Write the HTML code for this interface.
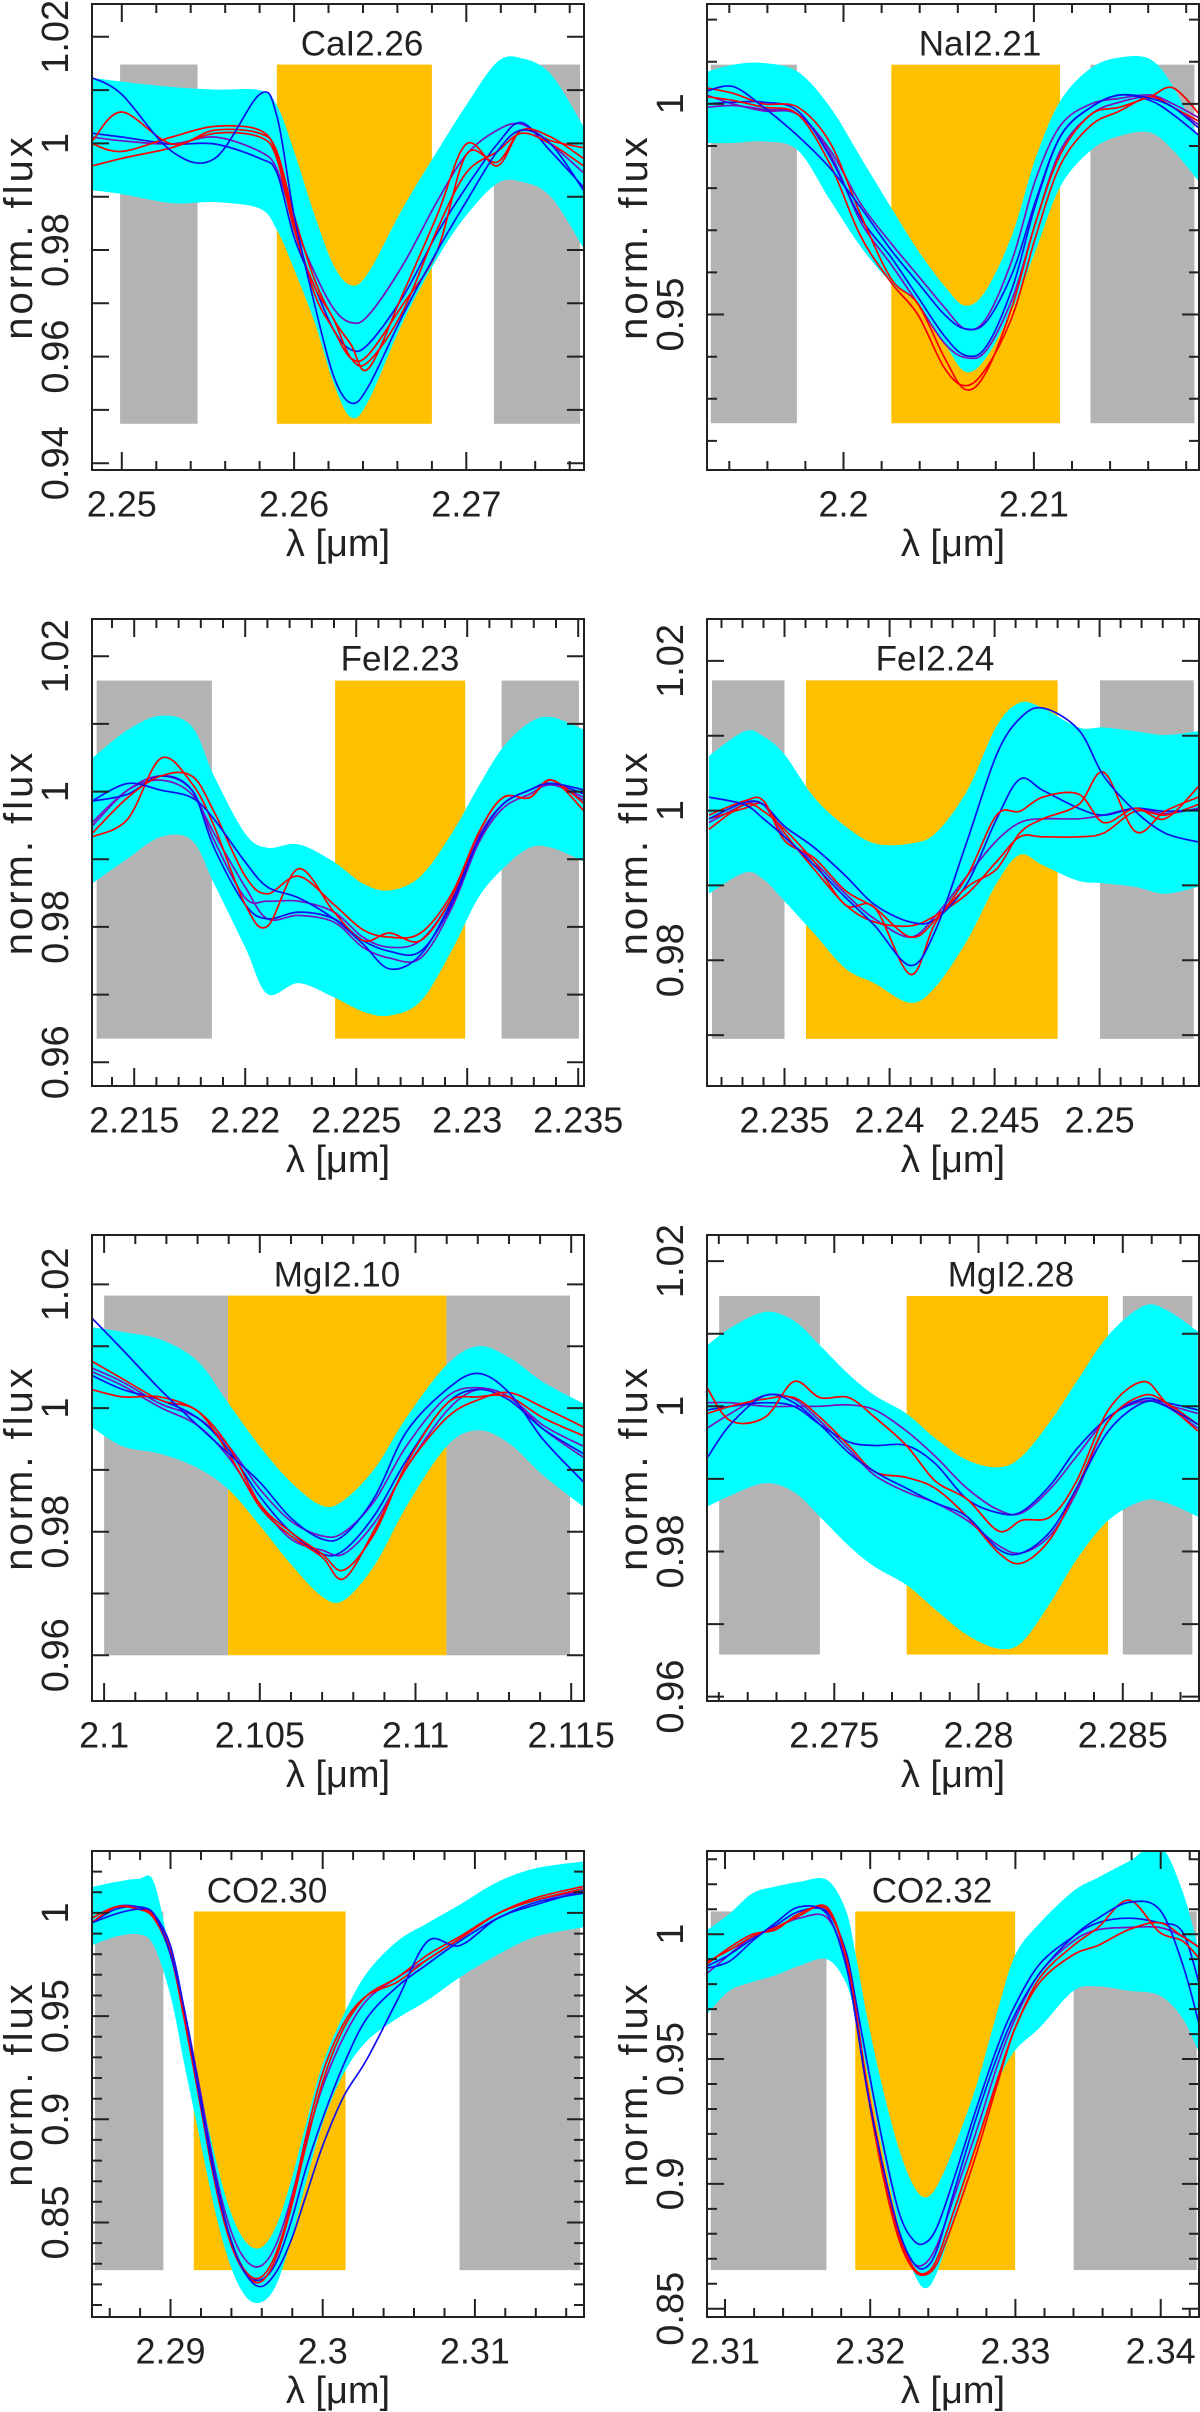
<!DOCTYPE html>
<html><head><meta charset="utf-8"><title>Spectral line index fits</title>
<style>
html,body{margin:0;padding:0;background:#fff;}
svg{display:block;}
text{font-family:"Liberation Sans",sans-serif;fill:#222;}
</style></head>
<body>
<svg id="fig" xmlns="http://www.w3.org/2000/svg" width="1200" height="2412" viewBox="0 0 1200 2412"></svg>
<script>
// ---------- Panel 1: CaI2.26 ----------
const p1X=[2.2483,2.25,2.2529,2.2554,2.2580,2.2590,2.2600,2.2612,2.2623,2.2633,2.2643,2.2663,2.2683,2.2700,2.2718,2.2732,2.2749,2.2768];
const p1Hi=[1.0123,1.0116,1.0106,1.0101,1.0100,1.0072,0.9985,0.9865,0.9771,0.9734,0.9757,0.9878,0.9985,1.0072,1.0153,1.0160,1.0130,1.0032];
const p1Lo=[0.9912,0.9905,0.9888,0.9890,0.9878,0.9838,0.9764,0.9664,0.9550,0.9486,0.9516,0.9664,0.9784,0.9865,0.9925,0.9928,0.9900,0.9804];
const p1A=[1.0123,1.0092,0.9985,0.9972,1.0092,1.0052,0.9865,0.9697,0.9563,0.9513,0.9543,0.9677,0.9798,0.9891,0.9985,1.0025,0.9999,0.9912];
const p1B=[1.0005,1.0059,0.9999,1.0025,1.0019,0.9985,0.9865,0.9744,0.9670,0.9623,0.9577,0.9717,0.9865,0.9999,0.9958,1.0025,1.0005,0.9992];
const p1C=[0.9958,0.9972,0.9992,1.0019,1.0012,0.9972,0.9838,0.9731,0.9670,0.9597,0.9590,0.9684,0.9838,0.9945,0.9985,1.0019,0.9999,0.9958];
const p1D=[1.0012,1.0005,0.9999,1.0012,0.9985,0.9952,0.9851,0.9757,0.9690,0.9664,0.9677,0.9771,0.9891,0.9979,1.0025,1.0036,0.9999,0.9945];
const p1E=[1.0019,1.0012,0.9999,0.9999,0.9972,0.9945,0.9824,0.9731,0.9650,0.9613,0.9623,0.9711,0.9831,0.9918,0.9999,1.0039,0.9985,0.9918];
const p1F=[0.9999,0.9985,1.0012,1.0032,1.0025,0.9979,0.9851,0.9717,0.9650,0.9597,0.9603,0.9697,0.9798,0.9979,0.9965,1.0025,1.0012,0.9972];
const p1Grey=[[2.2499,2.2544],[2.2716,2.2766]];
const p1Orange=[2.2590,2.2680];
const p1BandY=[1.0148,0.9474];
const p1XTicks=[2.25,2.26,2.27];
const p1YTicks=[0.94,0.96,0.98,1,1.02];

// ---------- Panel 2: NaI2.21 ----------
const p2X=[2.1928,2.1942,2.1958,2.1976,2.1993,2.2009,2.2025,2.2039,2.2053,2.2064,2.2075,2.2089,2.2101,2.2114,2.2130,2.2145,2.2161,2.2173,2.2187];
const p2Hi=[1.0076,1.0093,1.0097,1.0076,0.9992,0.9873,0.9754,0.9653,0.9568,0.9521,0.9559,0.9695,0.9873,1.0008,1.0085,1.0110,1.0106,1.0042,0.9915];
const p2Lo=[0.9907,0.9907,0.9911,0.9890,0.9771,0.9661,0.9576,0.9525,0.9432,0.9364,0.9398,0.9517,0.9653,0.9805,0.9890,0.9924,0.9932,0.9890,0.9814];
const p2A=[1.0030,1.0041,0.9992,0.9924,0.9847,0.9754,0.9653,0.9576,0.9500,0.9466,0.9483,0.9602,0.9771,0.9924,0.9992,1.0021,1.0013,0.9992,0.9941];
const p2B=[1.0038,1.0025,1.0000,0.9992,0.9907,0.9737,0.9585,0.9526,0.9398,0.9322,0.9364,0.9526,0.9720,0.9881,0.9975,0.9992,1.0017,1.0038,0.9975];
const p2C=[1.0017,1.0008,0.9992,0.9975,0.9856,0.9686,0.9576,0.9500,0.9373,0.9331,0.9373,0.9500,0.9686,0.9856,0.9949,0.9983,1.0017,0.9992,0.9958];
const p2D=[0.9992,0.9996,0.9987,0.9975,0.9890,0.9763,0.9669,0.9593,0.9517,0.9466,0.9491,0.9636,0.9822,0.9949,1.0000,1.0013,1.0021,1.0000,0.9966];
const p2E=[1.0000,1.0004,1.0004,0.9983,0.9873,0.9729,0.9636,0.9542,0.9449,0.9403,0.9424,0.9568,0.9763,0.9924,0.9992,1.0021,1.0008,0.9975,0.9924];
const p2F=[1.0021,1.0000,0.9983,0.9975,0.9881,0.9720,0.9619,0.9526,0.9432,0.9398,0.9415,0.9542,0.9720,0.9890,0.9975,1.0004,1.0017,0.9992,0.9949];
const p2Grey=[[2.19303,2.19755],[2.21297,2.21843]];
const p2Orange=[2.20251,2.21137];
const p2BandY=[1.0093,0.9242];
const p2XTicks=[2.2,2.21];
const p2YTicks=[0.95,1];

// ---------- Panel 3: FeI2.23 ----------
const p3X=[2.2131,2.2147,2.2162,2.2176,2.2186,2.2200,2.2210,2.2224,2.2240,2.2253,2.2265,2.2279,2.2293,2.2305,2.2316,2.2328,2.2338,2.2353];
const p3Hi=[1.0049,1.0091,1.0112,1.0096,1.0023,0.9938,0.9917,0.9922,0.9896,0.9864,0.9854,0.9875,0.9938,1.0007,1.0065,1.0102,1.0110,1.0091];
const p3Lo=[0.9864,0.9901,0.9933,0.9928,0.9864,0.9770,0.9701,0.9717,0.9696,0.9675,0.9669,0.9690,0.9765,0.9843,0.9886,0.9917,0.9917,0.9896];
const p3A=[0.9986,1.0012,1.0002,0.9991,0.9959,0.9896,0.9859,0.9843,0.9812,0.9775,0.9738,0.9759,0.9838,0.9928,0.9981,1.0002,1.0012,1.0002];
const p3B=[0.9933,0.9959,1.0049,1.0012,0.9949,0.9833,0.9801,0.9886,0.9822,0.9780,0.9791,0.9780,0.9843,0.9938,0.9991,0.9991,1.0017,0.9970];
const p3C=[0.9949,1.0002,1.0023,1.0002,0.9928,0.9843,0.9838,0.9838,0.9822,0.9785,0.9770,0.9780,0.9843,0.9933,0.9981,1.0002,1.0012,0.9986];
const p3D=[0.9986,0.9996,1.0023,1.0002,0.9917,0.9833,0.9812,0.9822,0.9812,0.9780,0.9764,0.9764,0.9833,0.9928,0.9981,1.0002,1.0012,0.9996];
const p3E=[0.9938,0.9991,1.0023,1.0023,0.9970,0.9875,0.9849,0.9875,0.9833,0.9796,0.9785,0.9791,0.9849,0.9938,0.9991,0.9991,1.0017,0.9981];
const p3F=[0.9954,1.0002,1.0017,0.9996,0.9938,0.9859,0.9812,0.9817,0.9807,0.9770,0.9754,0.9754,0.9828,0.9923,0.9975,0.9996,1.0010,0.9991];
const p3Grey=[[2.21331,2.21850],[2.23155,2.23503]];
const p3Orange=[2.22405,2.22991];
const p3BandY=[1.0164,0.9635];
const p3XTicks=[2.215,2.22,2.225,2.23,2.235];
const p3YTicks=[0.96,0.98,1,1.02];

// ---------- Panel 4: FeI2.24 ----------
const p4X=[2.2314,2.2331,2.2340,2.2350,2.2364,2.2379,2.2393,2.2410,2.2422,2.2437,2.2451,2.2462,2.2473,2.2490,2.2502,2.2517,2.2531,2.2547];
const p4Hi=[1.0073,1.0106,1.0099,1.0075,1.0018,0.9979,0.9956,0.9956,0.9970,1.0027,1.0113,1.0144,1.0137,1.0111,1.0111,1.0106,1.0101,1.0106];
const p4Lo=[0.9889,0.9917,0.9908,0.9879,0.9836,0.9789,0.9769,0.9743,0.9765,0.9827,0.9903,0.9941,0.9927,0.9906,0.9903,0.9898,0.9889,0.9898];
const p4A=[1.0018,1.0008,0.9989,0.9965,0.9927,0.9884,0.9846,0.9793,0.9841,0.9960,1.0075,1.0123,1.0137,1.0108,1.0046,0.9999,0.9970,0.9958];
const p4B=[0.9989,1.0011,1.0008,0.9979,0.9951,0.9913,0.9874,0.9851,0.9855,0.9903,0.9989,1.0042,1.0027,1.0003,0.9994,1.0003,0.9999,1.0001];
const p4C=[0.9994,1.0013,1.0013,0.9960,0.9937,0.9893,0.9870,0.9831,0.9855,0.9913,0.9994,0.9999,1.0018,1.0022,0.9984,1.0003,0.9989,1.0032];
const p4D=[0.9975,1.0008,0.9999,0.9975,0.9932,0.9874,0.9870,0.9781,0.9851,0.9898,0.9922,0.9970,0.9989,1.0008,1.0051,0.9972,0.9999,1.0018];
const p4E=[0.9984,1.0008,1.0008,0.9965,0.9932,0.9889,0.9855,0.9831,0.9860,0.9913,0.9960,0.9984,0.9989,0.9989,0.9994,1.0003,0.9996,1.0003];
const p4F=[0.9989,1.0003,1.0008,0.9970,0.9922,0.9874,0.9851,0.9846,0.9860,0.9889,0.9932,0.9965,0.9965,0.9965,0.9970,0.9999,0.9994,1.0008];
const p4Grey=[[2.23155,2.23500],[2.25002,2.25448]];
const p4Orange=[2.23602,2.24800];
const p4BandY=[1.0174,0.9695];
const p4XTicks=[2.235,2.24,2.245,2.25];
const p4YTicks=[0.98,1,1.02];

// ---------- Panel 5: MgI2.10 ----------
const p5X=[2.0996,2.1006,2.1018,2.1030,2.1040,2.1050,2.1060,2.1070,2.1077,2.1087,2.1097,2.1110,2.1120,2.1130,2.1141,2.1154];
const p5Hi=[1.0131,1.0123,1.0111,1.0076,1.0007,0.9938,0.9880,0.9842,0.9851,0.9903,0.9984,1.0070,1.0100,1.0082,1.0042,1.0007];
const p5Lo=[0.9969,0.9938,0.9926,0.9903,0.9868,0.9810,0.9747,0.9695,0.9689,0.9747,0.9840,0.9938,0.9964,0.9943,0.9891,0.9840];
const p5A=[1.0146,1.0094,1.0030,0.9972,0.9926,0.9880,0.9822,0.9788,0.9794,0.9857,0.9961,1.0030,1.0056,1.0025,0.9949,0.9880];
const p5B=[1.0076,1.0047,1.0013,0.9995,0.9926,0.9840,0.9793,0.9759,0.9724,0.9805,0.9903,0.9984,1.0013,1.0025,1.0001,0.9969];
const p5C=[1.0030,1.0018,1.0018,0.9995,0.9938,0.9845,0.9799,0.9764,0.9738,0.9799,0.9909,1.0007,1.0018,1.0018,0.9984,0.9955];
const p5D=[1.0065,1.0042,1.0007,0.9984,0.9938,0.9869,0.9817,0.9793,0.9799,0.9851,0.9938,1.0018,1.0033,1.0018,0.9972,0.9938];
const p5E=[1.0053,1.0030,1.0013,0.9984,0.9932,0.9857,0.9799,0.9764,0.9770,0.9828,0.9915,1.0007,1.0030,1.0013,0.9966,0.9926];
const p5F=[1.0059,1.0036,1.0001,0.9972,0.9920,0.9845,0.9788,0.9770,0.9764,0.9816,0.9903,0.9995,1.0030,1.0018,0.9966,0.9920];
const p5Grey=[[2.1000,2.10398],[2.11099,2.11496]];
const p5Orange=[2.10398,2.11099];
const p5BandY=[1.0182,0.9600];
const p5XTicks=[2.1,2.105,2.11,2.115];
const p5YTicks=[0.96,0.98,1,1.02];

// ---------- Panel 6: MgI2.28 ----------
const p6X=[2.2706,2.2714,2.2726,2.2736,2.2745,2.2755,2.2764,2.2775,2.2785,2.2796,2.2807,2.2815,2.2825,2.2834,2.2845,2.2857,2.2865,2.2876];
const p6Hi=[1.0084,1.0108,1.0130,1.0118,1.0084,1.0044,1.0015,0.9990,0.9956,0.9926,0.9916,0.9931,0.9980,1.0034,1.0098,1.0138,1.0133,1.0103];
const p6Lo=[0.9862,0.9877,0.9894,0.9882,0.9848,0.9808,0.9779,0.9754,0.9720,0.9685,0.9666,0.9675,0.9730,0.9789,0.9843,0.9870,0.9867,0.9848];
const p6A=[0.9929,0.9975,1.0015,1.0005,0.9975,0.9936,0.9910,0.9887,0.9867,0.9848,0.9803,0.9798,0.9828,0.9887,0.9966,1.0005,1.0000,0.9975];
const p6B=[1.0025,0.9980,0.9985,1.0034,1.0012,1.0012,0.9985,0.9946,0.9897,0.9872,0.9828,0.9843,0.9848,0.9897,0.9995,1.0034,1.0005,0.9966];
const p6C=[1.0005,1.0005,1.0000,1.0000,1.0000,1.0002,0.9995,0.9966,0.9931,0.9887,0.9857,0.9853,0.9887,0.9931,0.9985,1.0007,1.0002,0.9990];
const p6D=[0.9995,1.0000,1.0005,1.0000,0.9975,0.9951,0.9946,0.9946,0.9921,0.9872,0.9853,0.9855,0.9892,0.9941,0.9985,1.0010,1.0005,0.9995];
const p6E=[0.9990,1.0000,1.0010,1.0012,0.9985,0.9946,0.9910,0.9902,0.9887,0.9848,0.9798,0.9784,0.9818,0.9887,0.9980,1.0015,1.0005,0.9975];
const p6F=[0.9970,0.9990,1.0015,1.0010,0.9980,0.9941,0.9905,0.9882,0.9867,0.9843,0.9808,0.9798,0.9823,0.9882,0.9980,1.0010,1.0000,0.9970];
const p6Grey=[[2.27101,2.27450],[2.28500,2.28741]];
const p6Orange=[2.27751,2.28449];
const p6BandY=[1.0152,0.9658];
const p6XTicks=[2.275,2.28,2.285];
const p6YTicks=[0.96,0.98,1,1.02];

// ---------- Panel 7: CO2.30 ----------
const p7X=[2.2848,2.2864,2.2879,2.2889,2.2900,2.2909,2.2919,2.2929,2.2939,2.2949,2.2959,2.2969,2.2979,2.2989,2.3000,2.3014,2.3029,2.3049,2.3069,2.3090,2.3115,2.3140,2.3171];
const p7Hi=[1.0125,1.0150,1.0165,1.0150,0.9797,0.9489,0.9159,0.8828,0.8561,0.8410,0.8377,0.8475,0.8696,0.8977,0.9269,0.9511,0.9709,0.9863,0.9951,1.0040,1.0150,1.0216,1.0249];
const p7Lo=[0.9842,0.9885,0.9897,0.9842,0.9599,0.9269,0.8916,0.8564,0.8299,0.8145,0.8112,0.8190,0.8409,0.8695,0.8982,0.9225,0.9379,0.9489,0.9577,0.9687,0.9797,0.9885,0.9930];
const p7A=[0.9951,0.9995,1.0018,0.9995,0.9797,0.9533,0.9115,0.8718,0.8431,0.8255,0.8189,0.8255,0.8409,0.8630,0.8872,0.9114,0.9290,0.9577,0.9863,0.9842,0.9974,1.0040,1.0106];
const p7B=[0.9974,1.0029,1.0018,0.9974,0.9797,0.9489,0.9093,0.8696,0.8410,0.8255,0.8211,0.8322,0.8564,0.8872,0.9181,0.9445,0.9599,0.9687,0.9797,0.9885,0.9996,1.0062,1.0117];
const p7C=[0.9951,1.0029,1.0029,0.9985,0.9819,0.9533,0.9159,0.8762,0.8475,0.8321,0.8288,0.8387,0.8608,0.8894,0.9159,0.9401,0.9577,0.9687,0.9775,0.9874,0.9996,1.0062,1.0106];
const p7D=[0.9951,1.0018,1.0029,0.9995,0.9841,0.9533,0.9137,0.8740,0.8431,0.8255,0.8222,0.8299,0.8498,0.8762,0.9004,0.9269,0.9489,0.9643,0.9753,0.9863,0.9974,1.0051,1.0095];
const p7E=[0.9951,1.0029,1.0018,0.9985,0.9808,0.9489,0.9104,0.8718,0.8431,0.8266,0.8233,0.8344,0.8586,0.8916,0.9225,0.9467,0.9599,0.9665,0.9775,0.9874,0.9996,1.0073,1.0128];
const p7Grey=[[2.28504,2.28953],[2.30899,2.31692]];
const p7Orange=[2.29153,2.30150];
const p7BandY=[1.0007,0.8269];
const p7XTicks=[2.29,2.3,2.31];
const p7YTicks=[0.85,0.9,0.95,1];

// ---------- Panel 8: CO2.32 ----------
const p8X=[2.3088,2.3103,2.3119,2.3135,2.3151,2.3170,2.3183,2.3190,2.3198,2.3209,2.3220,2.3230,2.3238,2.3246,2.3257,2.3273,2.3288,2.3300,2.3317,2.3340,2.3357,2.3378,2.3399,2.3415,2.3427];
const p8Hi=[1.0018,1.0082,1.0164,1.0191,1.0209,1.0218,1.0100,0.9918,0.9664,0.9373,0.9136,0.8991,0.8946,0.8991,0.9136,0.9391,0.9700,0.9918,1.0046,1.0173,1.0227,1.0291,1.0355,1.0173,0.9918];
const p8Lo=[0.9682,0.9773,0.9809,0.9836,0.9873,0.9900,0.9809,0.9664,0.9446,0.9118,0.8827,0.8645,0.8582,0.8645,0.8845,0.9155,0.9409,0.9536,0.9627,0.9773,0.9791,0.9773,0.9755,0.9664,0.9518];
const p8A=[0.9864,0.9891,0.9973,1.0046,1.0109,1.0082,0.9882,0.9664,0.9373,0.9064,0.8809,0.8682,0.8664,0.8736,0.8955,0.9264,0.9518,0.9682,0.9846,0.9991,1.0064,1.0127,1.0100,0.9882,0.9627];
const p8B=[0.9882,0.9946,1.0000,1.0018,1.0082,1.0100,0.9918,0.9700,0.9391,0.9064,0.8791,0.8664,0.8642,0.8700,0.8882,0.9155,0.9427,0.9627,0.9827,0.9955,1.0027,1.0136,1.0009,0.9973,0.9900];
const p8C=[0.9845,0.9918,0.9991,1.0027,1.0064,1.0067,0.9900,0.9664,0.9373,0.9046,0.8791,0.8682,0.8682,0.8755,0.8936,0.9209,0.9482,0.9664,0.9846,0.9973,1.0018,1.0027,1.0027,0.9991,0.9945];
const p8D=[0.9873,0.9918,0.9982,1.0036,1.0091,1.0091,0.9936,0.9736,0.9482,0.9155,0.8882,0.8773,0.8764,0.8827,0.9009,0.9300,0.9555,0.9718,0.9882,0.9991,1.0046,1.0064,1.0046,1.0009,0.9791];
const p8E=[0.9891,0.9936,0.9991,1.0027,1.0073,1.0109,0.9918,0.9682,0.9373,0.9027,0.8773,0.8655,0.8636,0.8682,0.8845,0.9118,0.9409,0.9627,0.9809,0.9918,0.9955,1.0018,1.0046,0.9991,0.9945];
const p8Grey=[[2.30902,2.31699],[2.33401,2.34248]];
const p8Orange=[2.31897,2.32998];
const p8BandY=[1.0091,0.8655];
const p8XTicks=[2.31,2.32,2.33,2.34];
const p8YTicks=[0.85,0.9,0.95,1];

const BLUE='#1010f0', RED='#ff0000', PURP='#7a10c0';
const NS='http://www.w3.org/2000/svg';
const svg=document.getElementById('fig');

const panels=[
 {id:'cai226',title:'CaI2.26',tx:362,x0:92,y0:4,x1:584,y1:470,xmin:2.24827,xmax:2.27683,ymin:0.93873,ymax:1.02616,xminor:0.002,yminor:0.01,ymajor:0.02,
  X:p1X,hi:p1Hi,lo:p1Lo,lines:[[p1D,PURP],[p1E,BLUE],[p1C,RED],[p1F,RED],[p1B,RED],[p1A,BLUE]],grey:p1Grey,orange:p1Orange,bandY:p1BandY,xt:p1XTicks,yt:p1YTicks},
 {id:'nai221',title:'NaI2.21',tx:980,x0:707,y0:4,x1:1199,y1:470,xmin:2.19283,xmax:2.21867,ymin:0.9131,ymax:1.0237,xminor:0.002,yminor:0.01,ymajor:0.05,
  X:p2X,hi:p2Hi,lo:p2Lo,lines:[[p2D,PURP],[p2F,PURP],[p2E,BLUE],[p2B,RED],[p2C,RED],[p2A,BLUE]],grey:p2Grey,orange:p2Orange,bandY:p2BandY,xt:p2XTicks,yt:p2YTicks},
 {id:'fei223',title:'FeI2.23',tx:400,x0:92,y0:619,x1:584,y1:1086,xmin:2.21310,xmax:2.23526,ymin:0.9565,ymax:1.0255,xminor:0.001,yminor:0.01,ymajor:0.02,
  X:p3X,hi:p3Hi,lo:p3Lo,lines:[[p3C,PURP],[p3F,PURP],[p3D,BLUE],[p3E,RED],[p3B,RED],[p3A,BLUE]],grey:p3Grey,orange:p3Orange,bandY:p3BandY,xt:p3XTicks,yt:p3YTicks},
 {id:'fei224',title:'FeI2.24',tx:935,x0:707,y0:619,x1:1199,y1:1086,xmin:2.23131,xmax:2.25473,ymin:0.9632,ymax:1.0256,xminor:0.001,yminor:0.01,ymajor:0.02,
  X:p4X,hi:p4Hi,lo:p4Lo,lines:[[p4E,PURP],[p4F,RED],[p4B,BLUE],[p4C,RED],[p4D,RED],[p4A,BLUE]],grey:p4Grey,orange:p4Orange,bandY:p4BandY,xt:p4XTicks,yt:p4YTicks},
 {id:'mgi210',title:'MgI2.10',tx:337,x0:92,y0:1235,x1:584,y1:1701,xmin:2.09961,xmax:2.11541,ymin:0.9526,ymax:1.0280,xminor:0.001,yminor:0.01,ymajor:0.02,
  X:p5X,hi:p5Hi,lo:p5Lo,lines:[[p5D,PURP],[p5F,PURP],[p5E,BLUE],[p5C,RED],[p5B,RED],[p5A,BLUE]],grey:p5Grey,orange:p5Orange,bandY:p5BandY,xt:p5XTicks,yt:p5YTicks},
 {id:'mgi228',title:'MgI2.28',tx:1011,x0:707,y0:1235,x1:1199,y1:1701,xmin:2.27059,xmax:2.28764,ymin:0.9594,ymax:1.0236,xminor:0.001,yminor:0.01,ymajor:0.02,
  X:p6X,hi:p6Hi,lo:p6Lo,lines:[[p6C,PURP],[p6F,PURP],[p6D,BLUE],[p6E,RED],[p6B,RED],[p6A,BLUE]],grey:p6Grey,orange:p6Orange,bandY:p6BandY,xt:p6XTicks,yt:p6YTicks},
 {id:'co230',title:'CO2.30',tx:267,x0:92,y0:1851,x1:584,y1:2317,xmin:2.28484,xmax:2.31717,ymin:0.8042,ymax:1.0300,xminor:0.002,yminor:0.01,ymajor:0.05,
  X:p7X,hi:p7Hi,lo:p7Lo,lines:[[p7C,PURP],[p7D,BLUE],[p7E,RED],[p7B,RED],[p7A,BLUE]],grey:p7Grey,orange:p7Orange,bandY:p7BandY,xt:p7XTicks,yt:p7YTicks},
 {id:'co232',title:'CO2.32',tx:932,x0:707,y0:1851,x1:1199,y1:2317,xmin:2.30876,xmax:2.34264,ymin:0.8467,ymax:1.0333,xminor:0.002,yminor:0.01,ymajor:0.05,
  X:p8X,hi:p8Hi,lo:p8Lo,lines:[[p8C,PURP],[p8D,BLUE],[p8E,RED],[p8B,RED],[p8A,BLUE]],grey:p8Grey,orange:p8Orange,bandY:p8BandY,xt:p8XTicks,yt:p8YTicks}
];

function mk(tag,attrs,parent){
  const e=document.createElementNS(NS,tag);
  for(const k in attrs) e.setAttribute(k,attrs[k]);
  (parent||svg).appendChild(e);
  return e;
}
function segs(pts){
  let d='';
  for(let i=0;i<pts.length-1;i++){
    const p0=pts[i-1]||pts[i],p1=pts[i],p2=pts[i+1],p3=pts[i+2]||p2;
    const c1x=p1[0]+(p2[0]-p0[0])/6,c1y=p1[1]+(p2[1]-p0[1])/6;
    const c2x=p2[0]-(p3[0]-p1[0])/6,c2y=p2[1]-(p3[1]-p1[1])/6;
    d+=`C${c1x.toFixed(1)},${c1y.toFixed(1)} ${c2x.toFixed(1)},${c2y.toFixed(1)} ${p2[0].toFixed(1)},${p2[1].toFixed(1)}`;
  }
  return d;
}

panels.forEach((p,pi)=>{
  const sx=v=>p.x0+(v-p.xmin)/(p.xmax-p.xmin)*(p.x1-p.x0);
  const sy=v=>p.y1-(v-p.ymin)/(p.ymax-p.ymin)*(p.y1-p.y0);
  const g=mk('g',{});
  
  
  const cp=mk('clipPath',{id:'clip'+pi},g);
  mk('rect',{x:p.x0,y:p.y0,width:p.x1-p.x0,height:p.y1-p.y0},cp);
  const plot=mk('g',{'clip-path':`url(#clip${pi})`},g);
  
  
  // side-band windows
  p.grey.forEach((b,bi)=>{
    const r=mk('rect',{x:sx(b[0]),y:sy(p.bandY[0]),width:sx(b[1])-sx(b[0]),height:sy(p.bandY[1])-sy(p.bandY[0]),fill:'#b3b3b3'},plot);
    
    
  });
  const o=mk('rect',{x:sx(p.orange[0]),y:sy(p.bandY[0]),width:sx(p.orange[1])-sx(p.orange[0]),height:sy(p.bandY[1])-sy(p.bandY[0]),fill:'#ffc000'},plot);
  
  
  // cyan uncertainty envelope
  const hp=p.X.map((x,i)=>[sx(x),sy(p.hi[i])]);
  const lp=p.X.map((x,i)=>[sx(x),sy(p.lo[i])]).reverse();
  const band=mk('path',{d:`M${hp[0][0]},${hp[0][1]}`+segs(hp)+`L${lp[0][0]},${lp[0][1]}`+segs(lp)+'Z',fill:'#00ffff'},plot);
  
  
  // model/spectrum lines
  p.lines.forEach((ln,li)=>{
    const pts=p.X.map((x,i)=>[sx(x),sy(ln[0][i])]);
    const path=mk('path',{d:`M${pts[0][0]},${pts[0][1]}`+segs(pts),fill:'none',stroke:ln[1],'stroke-width':1.7},plot);
    
    
  });
  // frame
  const fr=mk('rect',{x:p.x0,y:p.y0,width:p.x1-p.x0,height:p.y1-p.y0,fill:'none',stroke:'#222','stroke-width':2},g);
  
  
  // ticks
  const tk=mk('g',{stroke:'#222','stroke-width':2},g);
  
  
  let d='';
  const n0=Math.ceil(p.xmin/p.xminor-1e-6),n1=Math.floor(p.xmax/p.xminor+1e-6);
  for(let n=n0;n<=n1;n++){
    const v=n*p.xminor;
    const major=p.xt.some(t=>Math.abs(t-v)<1e-7);
    const L=major?18:9, X=sx(v).toFixed(1);
    d+=`M${X},${p.y1}v${-L}M${X},${p.y0}v${L}`;
  }
  const m0=Math.ceil(p.ymin/p.yminor-1e-6),m1=Math.floor(p.ymax/p.yminor+1e-6);
  for(let n=m0;n<=m1;n++){
    const v=n*p.yminor;
    const major=Math.abs(v/p.ymajor-Math.round(v/p.ymajor))<1e-6 || p.ymajor<=0.02;
    const L=major?17:10, Y=sy(v).toFixed(1);
    d+=`M${p.x0},${Y}h${L}M${p.x1},${Y}h${-L}`;
  }
  mk('path',{d:d},tk);
  // x tick labels
  p.xt.forEach(v=>{
    const t=mk('text',{x:sx(v),y:p.y1+34,'font-size':36,'text-anchor':'middle','dominant-baseline':'central'},g);
    t.textContent=String(v);
    
    
  });
  // y tick labels (rotated)
  p.yt.forEach(v=>{
    const yy=sy(v), xx=p.x0-36;
    const t=mk('text',{x:xx,y:yy,'font-size':38,'text-anchor':'middle','dominant-baseline':'central',transform:`rotate(-90 ${xx} ${yy})`},g);
    t.textContent=String(v);
    
    
  });
  // axis titles
  const cx=(p.x0+p.x1)/2, cy=(p.y0+p.y1)/2;
  const xl=mk('text',{x:cx,y:p.y1+74,'font-size':38,'text-anchor':'middle','dominant-baseline':'central'},g);
  xl.textContent='λ [μm]';
  
  
  const yx=p.x0-73;
  const yl=mk('text',{x:yx,y:cy,'font-size':40,'text-anchor':'middle','dominant-baseline':'central','letter-spacing':'3',transform:`rotate(-90 ${yx} ${cy})`},g);
  yl.textContent='norm. flux';
  
  
  const tt=mk('text',{x:p.tx,y:p.y0+40,'font-size':35,'text-anchor':'middle','dominant-baseline':'central'},g);
  tt.textContent=p.title;
  
  
});
</script>
</body></html>
